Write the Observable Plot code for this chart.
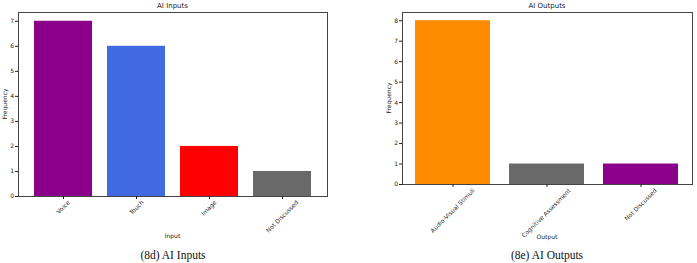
<!DOCTYPE html>
<html><head><meta charset="utf-8">
<script src="https://cdn.jsdelivr.net/npm/d3@7"></script>
<script src="https://cdn.jsdelivr.net/npm/@observablehq/plot@0.6"></script>
<style>
body{margin:0;background:#fff;width:697px;height:263px;position:relative;overflow:hidden;font-family:"DejaVu Sans",sans-serif}
.panel{position:absolute;top:0}
.lbl{position:absolute;font-family:"DejaVu Sans",sans-serif;color:#222;white-space:nowrap;line-height:1;transform:translate(-50%,-50%)}
.rot{transform:translate(-50%,-50%) rotate(-90deg)}
.cap{position:absolute;top:249px;font-family:"Liberation Serif","Times New Roman",serif;font-size:11.5px;color:#111;transform:translateX(-50%);white-space:nowrap}
</style></head><body>
<div id="left" class="panel" style="left:0"></div>
<div id="right" class="panel" style="left:345px"></div>
<div class="lbl" style="left:172.5px;top:6px;font-size:7px">AI Inputs</div>
<div class="lbl" style="left:172.5px;top:236px;font-size:6px">Input</div>
<div class="lbl rot" style="left:5px;top:104px;font-size:6px">Frequency</div>
<div class="lbl" style="left:547px;top:6px;font-size:7px">AI Outputs</div>
<div class="lbl" style="left:547px;top:237px;font-size:6px">Output</div>
<div class="lbl rot" style="left:389px;top:98px;font-size:6px">Frequency</div>
<div class="cap" style="left:173px">(8d) AI Inputs</div>
<div class="cap" style="left:547px">(8e) AI Outputs</div>
<script>
const inputCategories = ["Voice", "Touch", "Image", "Not Discussed"];
const inputCounts = [7, 6, 2, 1];
const inputColors = ["#8B008B", "#4169E1", "#FF0000", "#696969"];
const outputCategories = ["Audio-Visual Stimuli", "Cognitive Assessment", "Not Discussed"];
const outputCounts = [8, 1, 1];
const outputColors = ["#FF8C00", "#696969", "#8B008B"];

function panel(el, {cats, vals, cols, width, height, ml, mr, mt, mb, ymax, po}) {
  const data = cats.map((c, i) => ({c, v: vals[i], col: cols[i]}));
  const plot = Plot.plot({
    width, height, marginLeft: ml, marginRight: mr, marginTop: mt, marginBottom: mb,
    style: {fontFamily: "DejaVu Sans, sans-serif", fontSize: "6px", color: "#222", background: "white"},
    x: {domain: cats, paddingInner: 0.2, paddingOuter: po, label: null},
    y: {domain: [0, ymax], label: null},
    marks: [
      Plot.barY(data, {x: "c", y: "v", fill: "col"}),
      Plot.frame({stroke: "#444", strokeWidth: 1}),
      Plot.axisY({ticks: d3.range(0, Math.floor(ymax) + 1), tickFormat: d3.format("d"), tickSize: 3, tickPadding: 1.5, fontSize: 6, label: null}),
      Plot.axisX({tickSize: 3, tickPadding: 2, tickRotate: -45, fontSize: 6, label: null})
    ]
  });
  el.appendChild(plot);
  // center rotated tick labels below their ticks (matplotlib style)
  const xs = plot.scale("x");
  const svgRect = plot.getBoundingClientRect();
  const bottom = height - mb;
  d3.select(plot).selectAll("g[aria-label='x-axis tick label'] text").each(function() {
    const label = this.textContent;
    const cx = xs.apply(label) + xs.bandwidth / 2;
    const r = this.getBoundingClientRect();
    const curCx = r.left - svgRect.left + r.width / 2;
    const curTop = r.top - svgRect.top;
    const dx = cx - curCx, dy = (bottom + 2.5) - curTop;
    const t = this.getAttribute("transform") || "";
    this.setAttribute("transform", `translate(${dx.toFixed(2)},${dy.toFixed(2)}) ` + t);
  });
}

panel(document.getElementById("left"), {
  cats: inputCategories, vals: inputCounts, cols: inputColors,
  width: 345, height: 245, ml: 18, mr: 18, mt: 12, mb: 49, ymax: 7.35, po: 0.19
});
panel(document.getElementById("right"), {
  cats: outputCategories, vals: outputCounts, cols: outputColors,
  width: 352, height: 245, ml: 57, mr: 5, mt: 12, mb: 61, ymax: 8.4, po: 0.14
});
</script>
</body></html>
